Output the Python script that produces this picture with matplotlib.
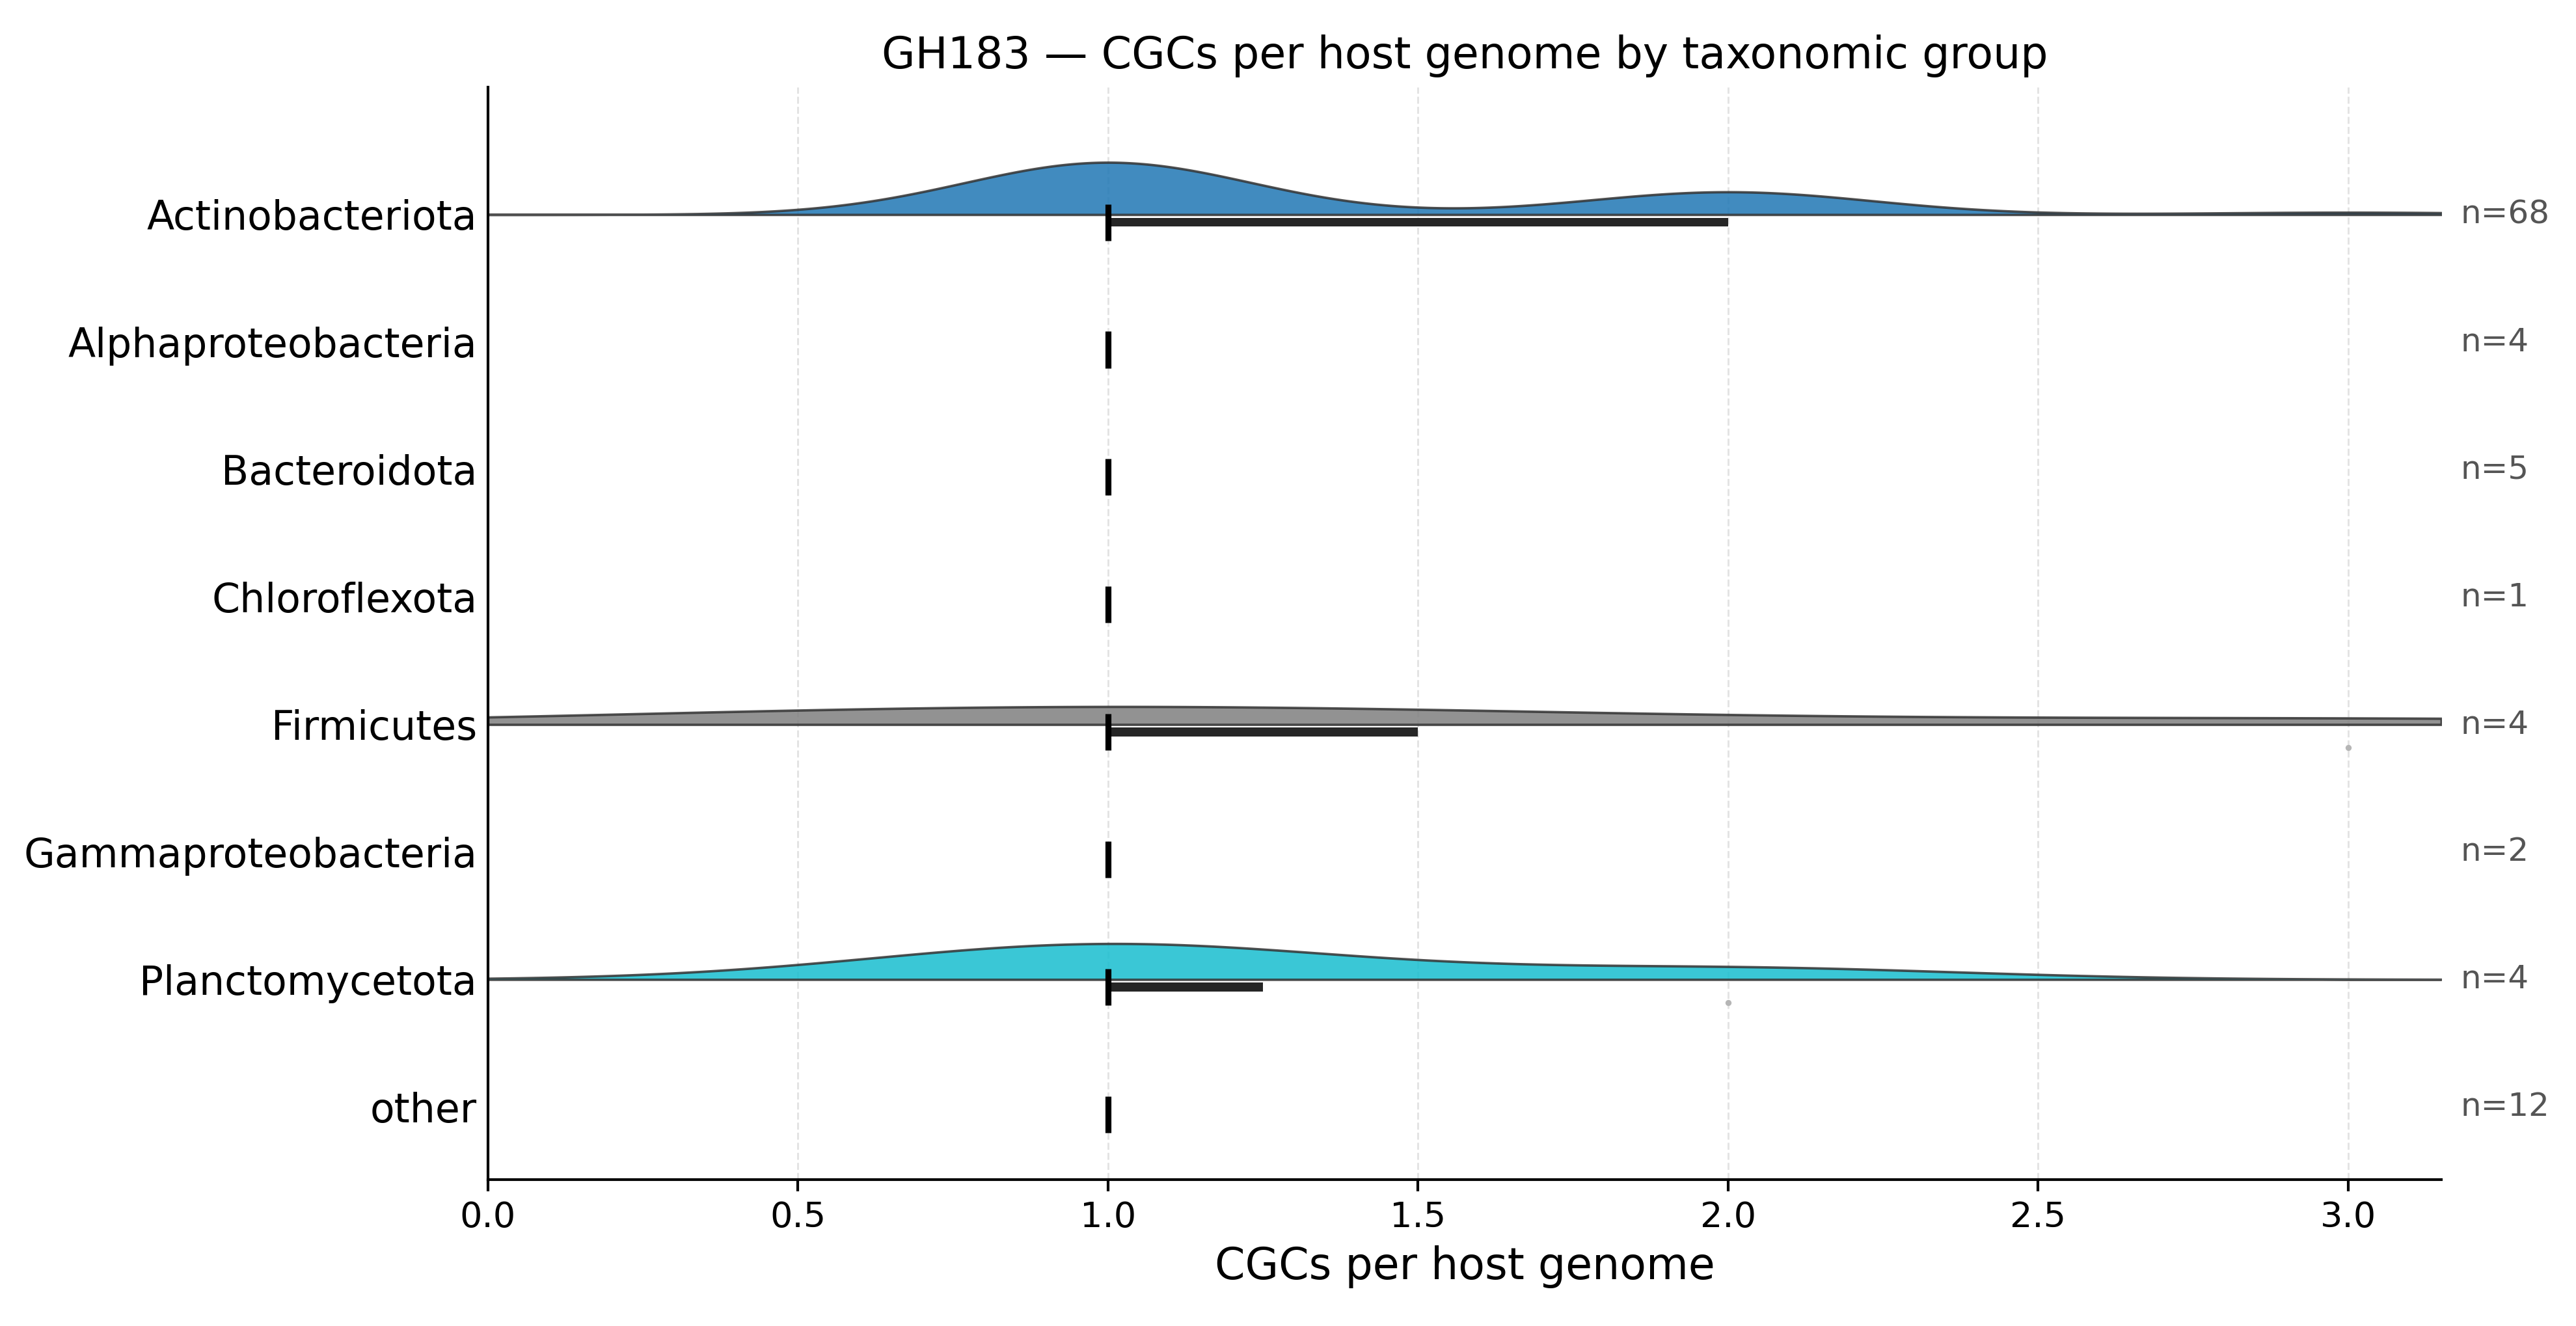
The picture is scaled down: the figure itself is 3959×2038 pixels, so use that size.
import numpy as np
import matplotlib
matplotlib.use("Agg")
import matplotlib.pyplot as plt

# ---- data ----
categories = ["Actinobacteriota", "Alphaproteobacteria", "Bacteroidota", "Chloroflexota",
              "Firmicutes", "Gammaproteobacteria", "Planctomycetota", "other"]
cgc_levels = [1, 2, 3]
# counts of genomes with 1, 2, 3 CGCs per group
counts_actinobacteriota = [46, 20, 2]
counts_alphaproteobacteria = [4, 0, 0]
counts_bacteroidota = [5, 0, 0]
counts_chloroflexota = [1, 0, 0]
counts_firmicutes = [3, 0, 1]
counts_gammaproteobacteria = [2, 0, 0]
counts_planctomycetota = [3, 1, 0]
counts_other = [12, 0, 0]
group_counts = [counts_actinobacteriota, counts_alphaproteobacteria, counts_bacteroidota,
                counts_chloroflexota, counts_firmicutes, counts_gammaproteobacteria,
                counts_planctomycetota, counts_other]
group_colors = ["#1f77b4", "#ff7f0e", "#2ca02c", "#d62728",
                "#7f7f7f", "#9467bd", "#17becf", "#8c564b"]

title = "GH183 \u2014 CGCs per host genome by taxonomic group"
xlabel = "CGCs per host genome"
xticks = [0.0, 0.5, 1.0, 1.5, 2.0, 2.5, 3.0]

# ---- figure ----
dpi = 300
fig = plt.figure(figsize=(3959 / dpi, 2038 / dpi), dpi=dpi)
ax = fig.add_axes([0.1894, 0.1104, 0.9477 - 0.1894, 0.9343 - 0.1104])

groups = [np.repeat(cgc_levels, c).astype(float) for c in group_counts]
xmax = max(g.max() for g in groups) * 1.05
grid = np.linspace(0, xmax, 600)


def kde(v, x):
    n = len(v)
    sd = v.std(ddof=1)
    bw = sd * n ** (-1 / 5)
    z = (x[:, None] - v[None, :]) / bw
    return np.exp(-0.5 * z ** 2).sum(1) / (n * bw * np.sqrt(2 * np.pi))


dens = []
for g in groups:
    if len(g) > 1 and g.std() > 0:
        dens.append(kde(g, grid))
    else:
        dens.append(None)
gmax = max(d.max() for d in dens if d is not None)
scale = 0.41 / gmax

for i, (g, d, col) in enumerate(zip(groups, dens, group_colors)):
    if d is not None:
        ax.fill_between(grid, i, i - d * scale, facecolor=col, alpha=0.85,
                        edgecolor="#333333", linewidth=0.9, zorder=2)
    q1, med, q3 = np.percentile(g, [25, 50, 75])
    if q3 > q1:
        ax.barh(i + 0.06, q3 - q1, left=q1, height=0.07, color="#262626", zorder=3)
    ax.vlines(med, i + 0.06 - 0.143, i + 0.06 + 0.143, color="black", linewidth=2.2, zorder=4)
    iqr = q3 - q1
    out = g[(g > q3 + 1.5 * iqr) | (g < q1 - 1.5 * iqr)]
    if len(out):
        ax.scatter(out, np.full(len(out), i + 0.18), s=5, color="#b5b5b5", zorder=3,
                   linewidths=0)
    ax.text(1.01, i, f"n={len(g)}", transform=ax.get_yaxis_transform(),
            ha="left", va="center", fontsize=12, color="#555555")

ax.set_xlim(0, xmax)
ax.set_ylim(len(categories) - 0.43, -1.0)
ax.set_yticks(range(len(categories)))
ax.set_yticklabels(categories, fontsize=14.8)
ax.tick_params(axis="y", length=0, pad=4)
ax.tick_params(axis="x", length=4.2, width=1.0)
ax.set_xticks(xticks)
ax.set_xticklabels([f"{t:.1f}" for t in xticks], fontsize=13)
ax.set_xlabel(xlabel, fontsize=16)
ax.set_title(title, fontsize=16, pad=7)
ax.grid(axis="x", linestyle="--", color="#dddddd", linewidth=0.7, alpha=0.8)
ax.set_axisbelow(True)
for s in ["top", "right"]:
    ax.spines[s].set_visible(False)
for s in ["left", "bottom"]:
    ax.spines[s].set_linewidth(1.0)

fig.savefig("out.png", dpi=dpi)
